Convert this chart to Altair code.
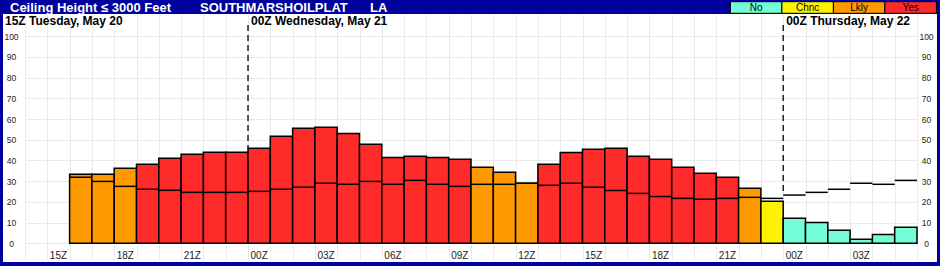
import altair as alt
import pandas as pd

# ---------------- data ----------------
# hour slots: slot 0 = 14Z Tue May 20 ... slot 39 = 05Z Thu May 22
first_bar_slot = 2  # 16Z Tuesday
categories = [
    "Lkly", "Lkly", "Lkly",
    "Yes", "Yes", "Yes", "Yes", "Yes", "Yes", "Yes", "Yes", "Yes", "Yes",
    "Yes", "Yes", "Yes", "Yes", "Yes",
    "Lkly", "Lkly", "Lkly",
    "Yes", "Yes", "Yes", "Yes", "Yes", "Yes", "Yes", "Yes", "Yes",
    "Lkly", "Chnc",
    "No", "No", "No", "No", "No", "No",
]
box_values = [
    33.3, 33.3, 36.2, 38.2, 41.1, 43.0, 44.0, 44.0, 45.9, 51.7, 55.6, 56.1, 53.1,
    47.8, 41.5, 42.0, 41.5, 40.6, 36.7, 34.3, 29.0, 38.2, 43.9, 45.4, 45.9, 42.0,
    40.6, 36.7, 33.8, 31.9, 26.6, 20.3, 12.1, 10.1, 6.3, 1.9, 4.3, 7.7,
]
line_values = [
    31.9, 29.9, 27.5, 26.1, 25.6, 24.6, 24.6, 24.6, 25.1, 26.1, 27.1, 29.0, 28.5,
    29.9, 28.5, 30.4, 28.5, 27.5, 28.5, 28.5, 29.0, 28.0, 29.0, 27.1, 25.5, 24.1,
    22.6, 21.7, 21.3, 21.7, 22.2, 21.7, 23.3, 24.6, 26.1, 29.0, 28.5, 30.4,
]
cat_names = ["No", "Chnc", "Lkly", "Yes"]
cat_colors = ["#74FCD8", "#FFF200", "#FF9900", "#FF2A2A"]
tick_labels = ["15Z", "18Z", "21Z", "00Z", "03Z", "06Z", "09Z", "12Z",
               "15Z", "18Z", "21Z", "00Z", "03Z"]
tick_slots = [1, 4, 7, 10, 13, 16, 19, 22, 25, 28, 31, 34, 37]
first_header = "15Z Tuesday, May 20"
day_headers = ["00Z Wednesday, May 21", "00Z Thursday, May 22"]
day_slots = [10, 34]
title_parts = ["Ceiling Height \u2264 3000 Feet", "SOUTHMARSHOILPLAT", "LA"]
n_slots = 40

# ---------------- tables ----------------
df = pd.DataFrame({"cat": categories, "A": box_values, "B": line_values})
df["x0"] = [first_bar_slot + i for i in range(len(df))]
df["x1"] = df["x0"] + 1
df["base"] = 0.0

ticks_df = pd.DataFrame({"lab": tick_labels, "xc": [s + 0.5 for s in tick_slots]})

dash_end = []
for s in day_slots:
    row = df[df["x0"] == s].iloc[0]
    dash_end.append(max(row["A"], row["B"]))
dash_df = pd.DataFrame({"x": day_slots, "top": [105.5] * len(day_slots), "end": dash_end})
head_df = pd.DataFrame({"x": day_slots, "lab": day_headers})

leg_df = pd.DataFrame({"cat": cat_names})
leg_df["px0"] = [705.4 + i * 51.5 for i in range(len(cat_names))]
leg_df["px1"] = leg_df["px0"] + 51.5
leg_df["pxc"] = leg_df["px0"] + 25.75

title_df = pd.DataFrame({"lab": title_parts, "px": [-15.0, 175.0, 345.0]})
one = pd.DataFrame({"k": [0]})

FONT = "Liberation Sans"
BLUE = "#00009C"
GRID = "#EAEAEA"
xs = alt.Scale(domain=[0, n_slots], nice=False, zero=False)
ys = alt.Scale(domain=[-8.07, 110.77], nice=False, zero=False)
cscale = alt.Scale(domain=cat_names, range=cat_colors)
yvals = list(range(0, 101, 10))

bars = alt.Chart(df).mark_rect(stroke="black", strokeWidth=1.5).encode(
    x=alt.X("x0:Q", scale=xs, axis=alt.Axis(values=list(range(n_slots + 1)), grid=True,
            gridColor=GRID, labels=False, ticks=False, domain=False, title=None)),
    x2="x1",
    y=alt.Y("A:Q", scale=ys, axis=alt.Axis(values=yvals, orient="left", grid=True,
            gridColor=GRID, ticks=False, tickSize=0, domain=False, labelAlign="center",
            labelPadding=14, labelFontSize=8.5, labelFont=FONT, labelColor="#222",
            title=None)),
    y2="base",
    color=alt.Color("cat:N", scale=cscale, legend=None),
)

lines = alt.Chart(df).mark_rule(color="black", strokeWidth=1.5).encode(
    x=alt.X("x0:Q", scale=xs, axis=None),
    x2="x1",
    y=alt.Y("B:Q", scale=ys, axis=alt.Axis(values=yvals, orient="right", grid=False,
            ticks=False, tickSize=0, domain=False, labelAlign="center", labelPadding=9,
            labelFontSize=8.5, labelFont=FONT, labelColor="#222", title=None)),
)

dashes = alt.Chart(dash_df).mark_rule(color="black", strokeWidth=1.3, strokeDash=[6, 4]).encode(
    x=alt.X("x:Q", scale=xs, axis=None),
    y=alt.Y("top:Q", scale=ys, axis=None),
    y2="end",
)

xlabels = alt.Chart(ticks_df).mark_text(font=FONT, fontSize=10, color="#222",
                                        baseline="middle").encode(
    x=alt.X("xc:Q", scale=xs, axis=None),
    y=alt.value(242),
    text="lab:N",
)

heads = alt.Chart(head_df).mark_text(font=FONT, fontSize=12, fontWeight="bold",
                                     color="black", align="left", baseline="alphabetic",
                                     dx=3).encode(
    x=alt.X("x:Q", scale=xs, axis=None),
    y=alt.value(11),
    text="lab:N",
)
head0 = alt.Chart(one).mark_text(font=FONT, fontSize=12, fontWeight="bold", color="black",
                                 align="left", baseline="alphabetic",
                                 text=first_header).encode(
    x=alt.value(-20), y=alt.value(11))

# frame + title bar
def prect(x0, x1, y0, y1):
    return alt.Chart(one).mark_rect(color=BLUE).encode(
        x=alt.value(x0), x2=alt.value(x1), y=alt.value(y0), y2=alt.value(y1))

frame = [
    prect(-25, 915, -14, 0),
    prect(-25, -22, -14, 252),
    prect(912, 915, -14, 252),
    prect(-25, 915, 248, 252),
]

titles = alt.Chart(title_df).mark_text(font=FONT, fontSize=13, fontWeight="bold",
                                       color="white", align="left",
                                       baseline="alphabetic").encode(
    x=alt.X("px:Q", scale=None), y=alt.value(-2.4), text="lab:N")

leg_boxes = alt.Chart(leg_df).mark_rect(stroke="black", strokeWidth=1).encode(
    x=alt.X("px0:Q", scale=None), x2="px1",
    y=alt.value(-12.3), y2=alt.value(-0.7),
    color=alt.Color("cat:N", scale=cscale, legend=None),
)
leg_text = alt.Chart(leg_df).mark_text(font=FONT, fontSize=10, color="black",
                                       baseline="middle").encode(
    x=alt.X("pxc:Q", scale=None), y=alt.value(-6.3), text="cat:N")

chart = alt.layer(
    bars, lines, dashes, xlabels, heads, head0, *frame, titles, leg_boxes, leg_text
).resolve_axis(y="independent", x="independent").properties(
    width=892, height=246,
    autosize=alt.AutoSizeParams(type="none"),
    padding={"left": 25, "top": 14, "right": 23, "bottom": 6},
    background="white",
).configure_view(stroke=None)

chart.save("out.html", embed_options={"renderer": "svg", "actions": False})
